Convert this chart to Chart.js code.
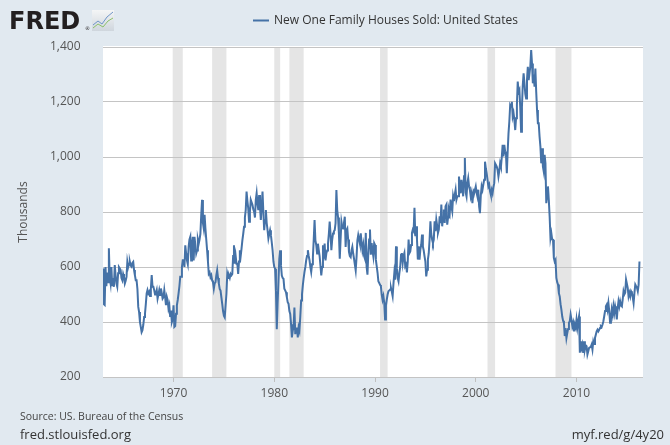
<!DOCTYPE html>
<html>
<head>
<meta charset="utf-8">
<script src="https://cdn.jsdelivr.net/npm/chart.js@4.4.0/dist/chart.umd.min.js"></script>
<style>
  html, body { margin: 0; padding: 0; background: #e1e9f0; }
  #wrap { width: 670px; height: 445px; }
</style>
</head>
<body>
<div id="wrap"><canvas id="chart" width="670" height="445"></canvas></div>
<script>
// monthly, seasonally adjusted annual rate, thousands — Jan 1963 .. Apr 2016
const startYear = 1963;
const sales = [
  595, 465, 462, 600, 530, 580, 545, 668, 560, 540, 600, 530,   // 1963
  560, 528, 607, 570, 540, 528, 577, 600, 595, 589, 560, 552,   // 1964
  575, 564, 540, 550, 564, 619, 600, 612, 619, 605, 601, 615,   // 1965
  619, 589, 570, 552, 552, 520, 455, 436, 400, 382, 363, 370,   // 1966
  390, 418, 430, 465, 504, 516, 504, 510, 495, 520, 571, 528,   // 1967
  528, 516, 500, 504, 516, 485, 500, 516, 498, 522, 505, 485,   // 1968
  490, 516, 490, 461, 491, 479, 449, 461, 418, 442, 400, 410,   // 1969
  461, 382, 385, 430, 461, 480, 504, 530, 565, 565, 600, 625,   // 1970
  625, 600, 679, 650, 624, 610, 673, 700, 710, 624, 680, 710,   // 1971
  624, 710, 680, 649, 660, 700, 685, 700, 720, 789, 844, 760,   // 1972
  740, 790, 740, 700, 661, 620, 575, 580, 563, 570, 551, 545,   // 1973
  521, 540, 545, 570, 588, 560, 539, 520, 514, 490, 466, 440,   // 1974
  423, 417, 460, 502, 575, 560, 569, 560, 575, 570, 575, 640,   // 1975
  679, 612, 640, 612, 612, 575, 620, 661, 640, 667, 697, 720,   // 1976
  746, 780, 807, 874, 840, 813, 765, 800, 844, 835, 826, 810,   // 1977
  801, 780, 844, 868, 830, 807, 862, 820, 771, 820, 874, 800,   // 1978
  734, 770, 807, 760, 734, 704, 720, 734, 716, 690, 661, 620,   // 1979
  600, 594, 514, 374, 470, 550, 630, 661, 606, 569, 560, 557,   // 1980
  521, 515, 508, 490, 472, 466, 440, 429, 392, 344, 368, 380,   // 1981
  453, 356, 374, 380, 344, 380, 368, 420, 478, 500, 533, 560,   // 1982
  582, 600, 624, 640, 661, 640, 624, 600, 582, 610, 636, 700,   // 1983
  771, 697, 680, 649, 685, 661, 640, 606, 569, 600, 679, 630,   // 1984
  685, 624, 649, 660, 685, 720, 765, 722, 661, 700, 722, 730,   // 1985
  734, 759, 880, 807, 780, 722, 630, 700, 765, 746, 740, 760,   // 1986
  783, 673, 734, 740, 700, 655, 640, 636, 660, 673, 649, 630,   // 1987
  630, 588, 636, 697, 716, 700, 685, 722, 690, 661, 680, 640,   // 1988
  630, 724, 600, 572, 651, 700, 736, 645, 687, 660, 639, 687,   // 1989
  680, 627, 603, 580, 548, 542, 535, 530, 500, 481, 494, 470,   // 1990
  409, 460, 481, 500, 512, 515, 518, 524, 510, 494, 540, 578,   // 1991
  554, 675, 596, 560, 548, 578, 600, 645, 651, 615, 640, 651,   // 1992
  603, 609, 580, 620, 700, 651, 657, 680, 724, 736, 730, 815,   // 1993
  712, 748, 700, 627, 675, 627, 663, 680, 718, 675, 660, 639,   // 1994
  620, 566, 590, 627, 650, 700, 766, 720, 700, 687, 700, 766,   // 1995
  730, 772, 750, 724, 736, 784, 760, 827, 748, 780, 809, 760,   // 1996
  821, 827, 754, 780, 809, 796, 845, 820, 803, 857, 840, 863,   // 1997
  881, 845, 857, 857, 929, 900, 868, 917, 890, 857, 930, 996,   // 1998
  870, 856, 905, 923, 893, 880, 856, 870, 832, 868, 881, 880,   // 1999
  893, 870, 856, 881, 820, 796, 860, 893, 881, 900, 917, 983,   // 2000
  959, 940, 917, 893, 900, 875, 862, 880, 868, 890, 905, 977,   // 2001
  977, 965, 953, 929, 950, 977, 965, 1000, 1044, 1002, 1044, 1020, // 2002
  1008, 941, 1020, 1086, 1130, 1189, 1183, 1201, 1147, 1160, 1135, 1098, // 2003
  1141, 1189, 1274, 1237, 1244, 1180, 1092, 1183, 1262, 1304, 1268, 1230, // 2004
  1213, 1280, 1328, 1280, 1304, 1330, 1389, 1340, 1268, 1300, 1256, 1322, // 2005
  1237, 1171, 1123, 1123, 1074, 1038, 977, 1032, 965, 947, 1008, 977,     // 2006
  832, 860, 893, 844, 784, 705, 723, 700, 699, 633, 620, 626,   // 2007
  560, 545, 536, 505, 493, 465, 445, 420, 405, 397, 349, 378,   // 2008
  342, 360, 375, 397, 403, 427, 409, 385, 397, 366, 391, 380,   // 2009
  409, 380, 403, 420, 288, 330, 306, 318, 288, 330, 300, 315,   // 2010
  312, 282, 294, 306, 306, 310, 318, 300, 330, 320, 342, 354,   // 2011
  366, 372, 366, 372, 378, 385, 382, 391, 403, 421, 440, 457,   // 2012
  463, 445, 469, 440, 397, 409, 445, 427, 457, 433, 457, 440,   // 2013
  409, 451, 475, 457, 475, 460, 457, 481, 512, 500, 506, 554,   // 2014
  554, 524, 493, 506, 493, 512, 506, 490, 469, 506, 536, 530,   // 2015
  525, 512, 536, 620                                            // 2016
];

// NBER recessions, first and last month
const recessions = [
  ['1969-12', '1970-11'], ['1973-11', '1975-03'], ['1980-01', '1980-07'],
  ['1981-07', '1982-11'], ['1990-07', '1991-03'], ['2001-03', '2001-11'],
  ['2007-12', '2009-06']
];

const yearTicks = [1970, 1980, 1990, 2000, 2010];
const valueTicks = [200, 400, 600, 800, 1000, 1200, 1400];
const seriesName = 'New One Family Houses Sold: United States';

const toYear = s => { const [y, m] = s.split('-').map(Number); return y + (m - 1) / 12; };
const points = sales.map((v, i) => ({ x: startYear + i / 12, y: v }));

Chart.defaults.font.family = "'Open Sans', sans-serif";
Chart.defaults.font.size = 12;
Chart.defaults.color = '#555';

const fredFrame = {
  id: 'fredFrame',
  beforeDraw(chart) {
    const { ctx, chartArea: a, scales: { x } } = chart;
    ctx.save();
    ctx.fillStyle = '#e1e9f0';
    ctx.fillRect(0, 0, chart.width, chart.height);
    ctx.fillStyle = '#fff';
    ctx.fillRect(a.left, a.top - 1, a.right - a.left, a.bottom - a.top + 1);
    ctx.fillStyle = '#e5e5e5';
    recessions.forEach(([s, e]) => {
      const x0 = x.getPixelForValue(toYear(s));
      const x1 = x.getPixelForValue(toYear(e) + 1 / 12);
      ctx.fillRect(x0, a.top, x1 - x0, a.bottom - a.top);
    });
    ctx.restore();
  },
  afterDraw(chart) {
    const { ctx } = chart;
    ctx.save();
    // logo
    ctx.fillStyle = '#231f20';
    ctx.font = "bold 24px 'DejaVu Sans'";
    ctx.textBaseline = 'alphabetic';
    ctx.fillText('FRED', 9, 29);
    ctx.font = "5px 'DejaVu Sans'";
    ctx.fillText('®', 85, 30);
    const g = ctx.createLinearGradient(0, 10, 0, 31);
    g.addColorStop(0, '#f4f5f6'); g.addColorStop(1, '#cfd6dd');
    ctx.fillStyle = g;
    ctx.fillRect(92, 10, 22, 21);
    ctx.lineWidth = 1;
    ctx.strokeStyle = '#6f95c8';
    ctx.beginPath(); ctx.moveTo(93, 25); ctx.lineTo(98, 21); ctx.lineTo(102, 24); ctx.lineTo(107, 17); ctx.lineTo(113, 12); ctx.stroke();
    ctx.strokeStyle = '#8cc06a';
    ctx.beginPath(); ctx.moveTo(93, 28); ctx.lineTo(98, 24); ctx.lineTo(103, 27); ctx.lineTo(108, 21); ctx.lineTo(113, 18); ctx.stroke();

    // legend
    ctx.strokeStyle = '#4572a7';
    ctx.lineWidth = 2;
    ctx.beginPath(); ctx.moveTo(253, 20.5); ctx.lineTo(269, 20.5); ctx.stroke();
    ctx.fillStyle = '#333';
    ctx.font = "12px 'Open Sans'";
    ctx.textBaseline = 'middle';
    ctx.fillText(seriesName, 274, 20.5);

    // footer
    ctx.fillStyle = '#444';
    ctx.font = "10.5px 'Open Sans'";
    ctx.fillText('Source: US. Bureau of the Census', 20, 417);
    ctx.fillStyle = '#333';
    ctx.font = "13px 'Open Sans'";
    ctx.fillText('fred.stlouisfed.org', 20, 435);
    ctx.textAlign = 'right';
    ctx.fillText('myf.red/g/4y20', 664, 435);
    ctx.restore();
  }
};

new Chart(document.getElementById('chart'), {
  type: 'line',
  data: {
    datasets: [{
      label: seriesName,
      data: points,
      borderColor: '#4572a7',
      borderWidth: 2,
      pointRadius: 0,
      tension: 0
    }]
  },
  options: {
    responsive: false,
    animation: false,
    devicePixelRatio: 1,
    layout: { padding: { left: 0, right: 27, top: 47, bottom: 38 } },
    plugins: { legend: { display: false }, tooltip: { enabled: false } },
    scales: {
      x: {
        type: 'linear',
        min: 1963,
        max: 2016.6,
        afterFit: s => { s.height = 30; },
        afterBuildTicks: s => { s.ticks = yearTicks.map(v => ({ value: v })); },
        ticks: { padding: 4, color: '#555', callback: v => String(v), maxRotation: 0 },
        grid: { drawOnChartArea: false, drawTicks: true, tickLength: 5, color: '#c0c0c0' },
        border: { display: false }
      },
      y: {
        min: 200,
        max: 1400,
        afterFit: s => { s.width = 103; },
        afterBuildTicks: s => { s.ticks = valueTicks.map(v => ({ value: v })); },
        ticks: { padding: 22.5, color: '#555' },
        grid: { drawTicks: false, color: '#c4c4c4' },
        border: { display: false },
        title: { display: true, text: 'Thousands', color: '#555', font: { size: 12 }, padding: { top: 16 } }
      }
    }
  },
  plugins: [fredFrame]
});
</script>
</body>
</html>
